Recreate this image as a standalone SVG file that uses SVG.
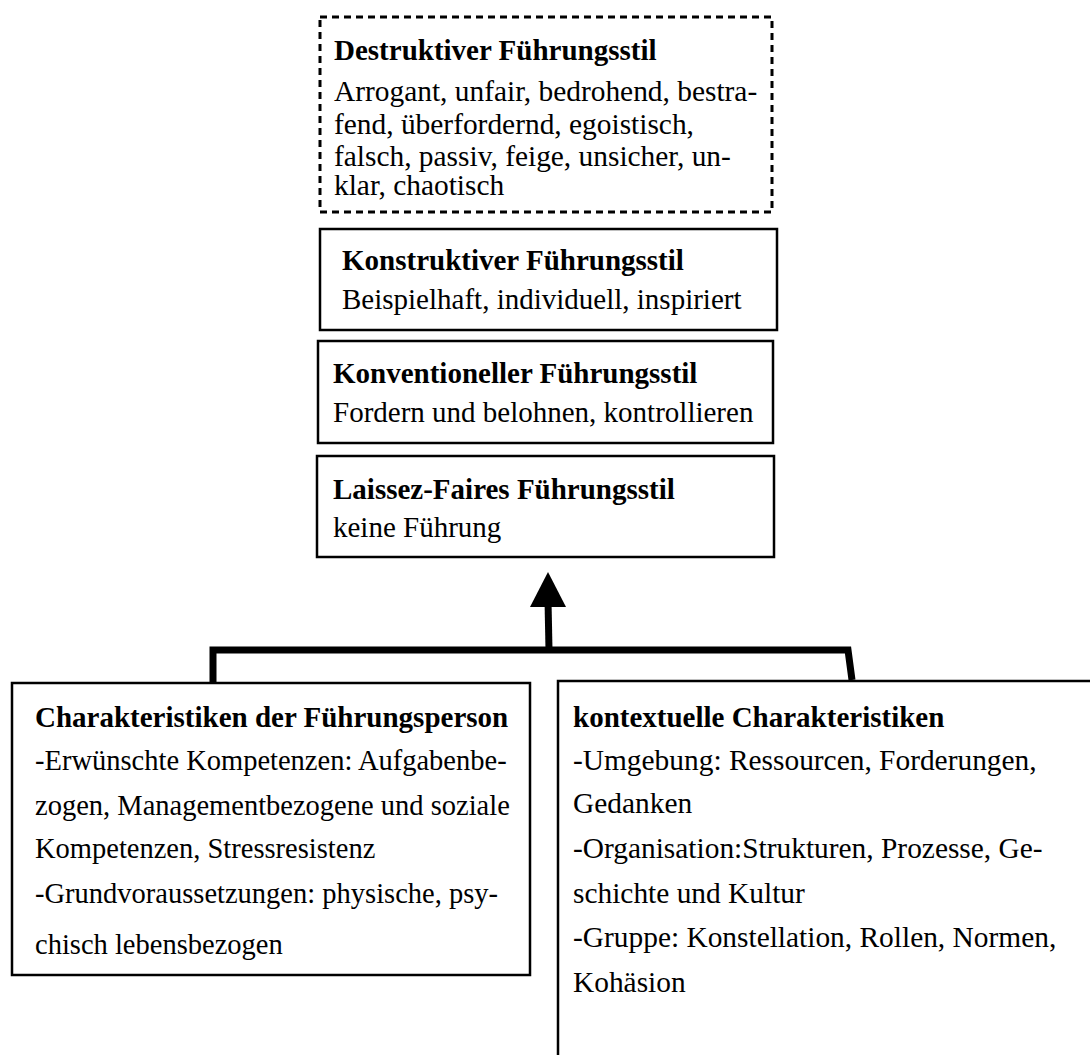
<svg xmlns="http://www.w3.org/2000/svg" width="1090" height="1055" viewBox="0 0 1090 1055">
<style>
.box{fill:#fff;stroke:#000;stroke-width:2.5}
.dash{fill:#fff;stroke:#000;stroke-width:3;stroke-dasharray:7 5}
.t{font-family:"Liberation Serif","Times New Roman",serif;font-size:29px;fill:#000}
.b{font-weight:bold}
.s{font-size:28.5px}
.l{font-size:29.4px}
.con{fill:none;stroke:#000;stroke-width:7;stroke-linejoin:miter}
</style>
<g id="destruktiv">
<rect class="dash" x="320" y="17" width="452" height="195"/>
<text class="t b" x="334" y="60">Destruktiver Führungsstil</text>
<text class="t l" x="334" y="101">Arrogant, unfair, bedrohend, bestra-</text>
<text class="t l" x="334" y="134">fend, überfordernd, egoistisch,</text>
<text class="t l" x="334" y="166">falsch, passiv, feige, unsicher, un-</text>
<text class="t l" x="334" y="195">klar, chaotisch</text>
</g>
<g id="konstruktiv">
<rect class="box" x="320" y="229" width="457" height="101"/>
<text class="t b" x="342" y="270">Konstruktiver Führungsstil</text>
<text class="t" x="342" y="309">Beispielhaft, individuell, inspiriert</text>
</g>
<g id="konventionell">
<rect class="box" x="318" y="341" width="455" height="102"/>
<text class="t b" x="333" y="383">Konventioneller Führungsstil</text>
<text class="t" x="333" y="422">Fordern und belohnen, kontrollieren</text>
</g>
<g id="laissez">
<rect class="box" x="317" y="456" width="457" height="101"/>
<text class="t b" x="333" y="499">Laissez-Faires Führungsstil</text>
<text class="t" x="333" y="537">keine Führung</text>
</g>
<g id="person">
<rect class="box" x="12" y="683" width="518" height="292"/>
<text class="t b" x="35" y="727">Charakteristiken der Führungsperson</text>
<text class="t s" x="35" y="770">-Erwünschte Kompetenzen: Aufgabenbe-</text>
<text class="t s" x="35" y="815">zogen, Managementbezogene und soziale</text>
<text class="t s" x="35" y="858">Kompetenzen, Stressresistenz</text>
<text class="t s" x="35" y="903">-Grundvoraussetzungen: physische, psy-</text>
<text class="t s" x="35" y="954">chisch lebensbezogen</text>
</g>
<g id="kontext">
<rect class="box" x="558" y="681" width="540" height="400"/>
<text class="t b" x="573" y="727">kontextuelle Charakteristiken</text>
<text class="t l" x="573" y="770">-Umgebung: Ressourcen, Forderungen,</text>
<text class="t l" x="573" y="813">Gedanken</text>
<text class="t l" x="573" y="858">-Organisation:Strukturen, Prozesse, Ge-</text>
<text class="t l" x="573" y="903">schichte und Kultur</text>
<text class="t l" x="573" y="947">-Gruppe: Konstellation, Rollen, Normen,</text>
<text class="t l" x="573" y="992">Kohäsion</text>
</g>
<g id="connectors">
<path class="con" d="M213,683 L213,650 L848,650 L852,680"/>
<path class="con" d="M549,650 L548,600"/>
<polygon points="548,572 530,607 566,607" fill="#000"/>
</g>
</svg>
